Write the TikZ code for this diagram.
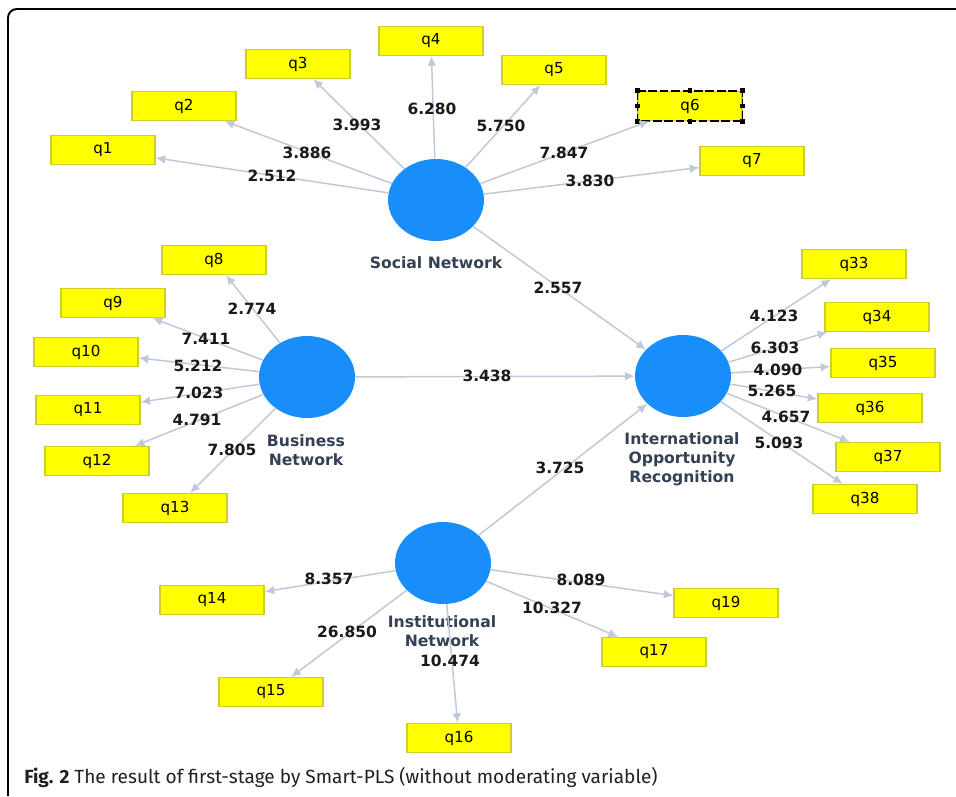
\documentclass[tikz,border=0pt]{standalone}
\usepackage{fontspec}
\setmainfont{DejaVu Sans}
\newfontfamily\capfont{Fira Sans}
\usetikzlibrary{arrows.meta,positioning,shapes.geometric}
\definecolor{indfill}{RGB}{255,255,0}
\definecolor{inddraw}{RGB}{206,206,40}
\definecolor{lvblue}{RGB}{24,142,250}
\definecolor{lvtext}{RGB}{52,64,84}
\definecolor{arrgray}{RGB}{192,200,218}
\definecolor{captext}{RGB}{35,31,32}

\begin{document}
\begin{tikzpicture}[x=0.02cm,y=-0.02cm,
  ind/.style={draw=inddraw,fill=indfill,line width=0.7pt,minimum width=2.08cm,
    minimum height=0.58cm,inner sep=0pt,font=\fontsize{8.6}{10}\selectfont},
  lv/.style={ellipse,fill=lvblue,minimum width=1.92cm,minimum height=1.64cm},
  lvlab/.style={font=\fontsize{8.9}{10.8}\selectfont\bfseries,text=lvtext,align=center,inner sep=0pt},
  coef/.style={font=\fontsize{8.8}{10}\selectfont\bfseries,text=black!90,inner sep=0pt},
  arr/.style={draw=arrgray,line width=0.85pt,-{Latex[length=5.5pt,width=5pt]}}]
\useasboundingbox (0,0) rectangle (956,796);
\draw[line width=1.1pt,rounded corners=5pt] (8,796) -- (8,9) -- (956,9);

% latent variables
\node[lv] (soc) at (436,200) {};
\node[lv] (bus) at (307,377) {};
\node[lv] (ior) at (683,376) {};
\node[lv] (ins) at (443,563) {};
\node[lvlab] (socl) at (436,263) {Social Network};
\node[lvlab] (busl) at (306,450) {Business\\Network};
\node[lvlab] (iorl) at (682,459) {International\\Opportunity\\Recognition};
\node[lvlab] (insl) at (442,631) {Institutional\\Network};

% indicators
\foreach \n/\x/\y in {q1/103/150,q2/184/106,q3/298/64,q4/431/41,q5/554/70,q6/690/106,
  q7/752/161,q8/214/260,q9/113/303,q10/86/352,q11/88/410,q12/97/461,q13/175/508,
  q14/212/600,q15/271/692,q16/459/738,q17/654/652,q19/726/603,q33/854/264,
  q34/877/317,q35/883/363,q36/870/408,q37/888/457,q38/865/499}
  \node[ind] (\n) at (\x,\y) {\n};
\draw[line width=0.8pt,dash pattern=on 5pt off 1.5pt] (q6.north west) rectangle (q6.south east);
\foreach \an in {north west,north,north east,east,south east,south,south west,west}
  \fill (q6.\an) ++(-2.4,-2.4) rectangle ++(4.8,4.8);

% connectors
\foreach \a/\b in {soc/q1,soc/q2,soc/q3,soc/q4,soc/q5,soc/q6,soc/q7,
  bus/q8,bus/q9,bus/q10,bus/q11,bus/q12,bus/q13,
  ins/q14,ins/q15,ins/q16,ins/q17,ins/q19,
  ior/q33,ior/q34,ior/q35,ior/q36,ior/q37,ior/q38,
  soc/ior,bus/ior,ins/ior}
  \draw[arr] (\a) -- (\b);

% path coefficients
\foreach \v/\x/\y [count=\i] in {2.512/272/176,3.886/307/153,3.993/357/125,6.280/432/109,
  5.750/501/126,7.847/564/153,3.830/590/181,2.557/558/288,
  2.774/252/309,7.411/206/339,5.212/198/366,7.023/199/393,4.791/197/420,7.805/232/450,
  3.438/487/376,3.725/560/468,
  4.123/774/316,6.303/775/348,4.090/778/370,5.265/772/391,4.657/786/417,5.093/779/443,
  8.357/329/579,26.850/347/632,10.474/450/661,10.327/552/608,8.089/581/580}
  \node[coef] (c\i) at (\x,\y) {\v};

\node[anchor=west,inner sep=0pt,text=captext,font=\capfont\fontsize{10.85}{13}\selectfont] (cap)
  at (24,778) {\textbf{Fig. 2} The result of first-stage by Smart-PLS (without moderating variable)};
\end{tikzpicture}
\end{document}
